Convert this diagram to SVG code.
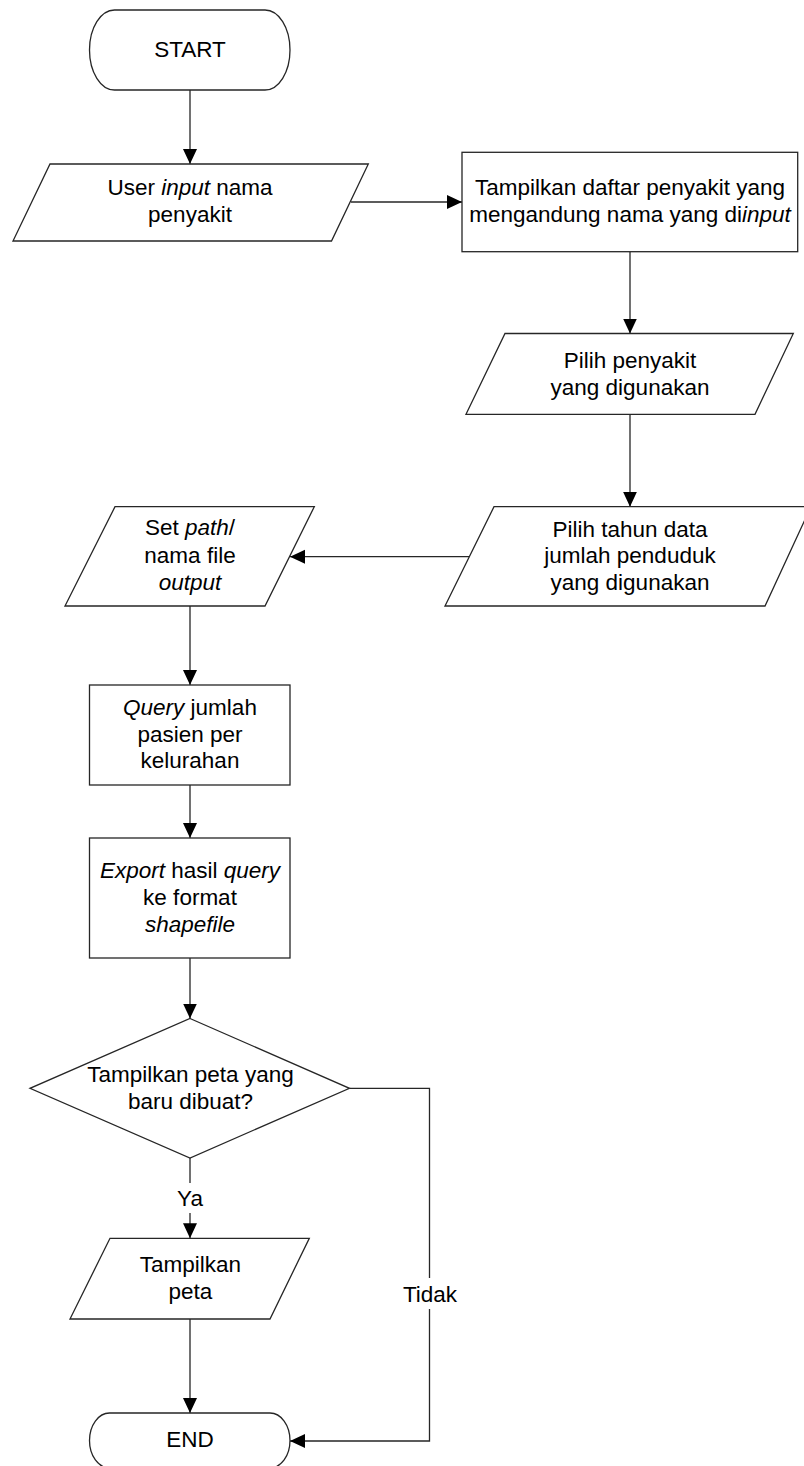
<svg xmlns="http://www.w3.org/2000/svg" width="804" height="1466" viewBox="0 0 804 1466">
  <style>
    .shape { fill: #ffffff; stroke: #262626; stroke-width: 1.3; }
    .conn { fill: none; stroke: #262626; stroke-width: 1.3; }
    text { font-family: "Liberation Sans", Arial, sans-serif; font-size: 22.5px; fill: #000000; text-anchor: middle; }
    .it { font-style: italic; }
  </style>
  <defs>
    <marker id="arrow" markerUnits="userSpaceOnUse" markerWidth="16" markerHeight="15" refX="15" refY="7" orient="auto">
      <path d="M0,0 L15,7 L0,14 z" fill="#000000"/>
    </marker>
  </defs>

  <rect width="804" height="1466" fill="#ffffff"/>

  <!-- connectors -->
  <g id="connectors">
    <line class="conn" x1="190" y1="90" x2="190" y2="164" marker-end="url(#arrow)"/>
    <line class="conn" x1="351" y1="202" x2="462" y2="202" marker-end="url(#arrow)"/>
    <line class="conn" x1="630" y1="252" x2="630" y2="333.5" marker-end="url(#arrow)"/>
    <line class="conn" x1="630" y1="414.5" x2="630" y2="506.7" marker-end="url(#arrow)"/>
    <line class="conn" x1="469.5" y1="556.7" x2="290" y2="556.7" marker-end="url(#arrow)"/>
    <line class="conn" x1="190" y1="606" x2="190" y2="685" marker-end="url(#arrow)"/>
    <line class="conn" x1="190" y1="785" x2="190" y2="838" marker-end="url(#arrow)"/>
    <line class="conn" x1="190" y1="958" x2="190" y2="1018.5" marker-end="url(#arrow)"/>
    <!-- Ya branch -->
    <line class="conn" x1="190" y1="1158" x2="190" y2="1183"/>
    <line class="conn" x1="190" y1="1213" x2="190" y2="1238.3" marker-end="url(#arrow)"/>
    <text x="190" y="1205.7">Ya</text>
    <line class="conn" x1="190" y1="1319" x2="190" y2="1413" marker-end="url(#arrow)"/>
    <!-- Tidak branch -->
    <polyline class="conn" points="349.5,1088.3 429.5,1088.3 429.5,1278"/>
    <polyline class="conn" points="429.5,1309 429.5,1441 290,1441" marker-end="url(#arrow)"/>
    <text x="430" y="1301.7">Tidak</text>
  </g>

  <g id="start">
    <rect class="shape" x="89.5" y="10" width="200.5" height="80" rx="25" ry="40"/>
    <text x="190" y="57">START</text>
  </g>

  <g id="user-input">
    <polygon class="shape" points="50,164 368.3,164 331.5,241 13,241"/>
    <text x="190" y="195">User <tspan class="it">input</tspan> nama</text>
    <text x="190" y="221.7">penyakit</text>
  </g>

  <g id="show-list">
    <rect class="shape" x="462" y="152.3" width="335.7" height="99.4"/>
    <text x="630" y="195">Tampilkan daftar penyakit yang</text>
    <text x="630" y="222">mengandung nama yang di<tspan class="it">input</tspan></text>
  </g>

  <g id="choose-disease">
    <polygon class="shape" points="505,333.5 793.3,333.5 755,414.3 466,414.3"/>
    <text x="630" y="368.3">Pilih penyakit</text>
    <text x="630" y="395">yang digunakan</text>
  </g>

  <g id="choose-year">
    <polygon class="shape" points="494,506.7 811,506.7 765,606 445,606"/>
    <text x="630" y="536.7">Pilih tahun data</text>
    <text x="630" y="563.3">jumlah penduduk</text>
    <text x="630" y="590">yang digunakan</text>
  </g>

  <g id="set-path">
    <polygon class="shape" points="115,506.7 314.3,506.7 265,606 65,606"/>
    <text x="190" y="535">Set <tspan class="it">path</tspan>/</text>
    <text x="190" y="563.3">nama file</text>
    <text x="190" y="590" class="it">output</text>
  </g>

  <g id="query">
    <rect class="shape" x="89.5" y="685" width="200.5" height="100"/>
    <text x="190" y="715"><tspan class="it">Query</tspan> jumlah</text>
    <text x="190" y="741.7">pasien per</text>
    <text x="190" y="768.3">kelurahan</text>
  </g>

  <g id="export">
    <rect class="shape" x="89.5" y="838" width="200.5" height="120"/>
    <text x="190" y="878.3"><tspan class="it">Export</tspan> hasil <tspan class="it">query</tspan></text>
    <text x="190" y="905">ke format</text>
    <text x="190" y="931.7" class="it">shapefile</text>
  </g>

  <g id="decision">
    <polygon class="shape" points="190,1018.5 349.5,1088.3 190,1158 30,1088.3"/>
    <text x="190.5" y="1082.3">Tampilkan peta yang</text>
    <text x="190.5" y="1109">baru dibuat?</text>
  </g>

  <g id="show-map">
    <polygon class="shape" points="110,1238.3 309.3,1238.3 270,1319 70,1319"/>
    <text x="190.5" y="1272.3">Tampilkan</text>
    <text x="190.5" y="1299">peta</text>
  </g>

  <g id="end">
    <rect class="shape" x="89.5" y="1413" width="200.5" height="55" rx="20" ry="27.5"/>
    <text x="190" y="1447.3">END</text>
  </g>
</svg>
